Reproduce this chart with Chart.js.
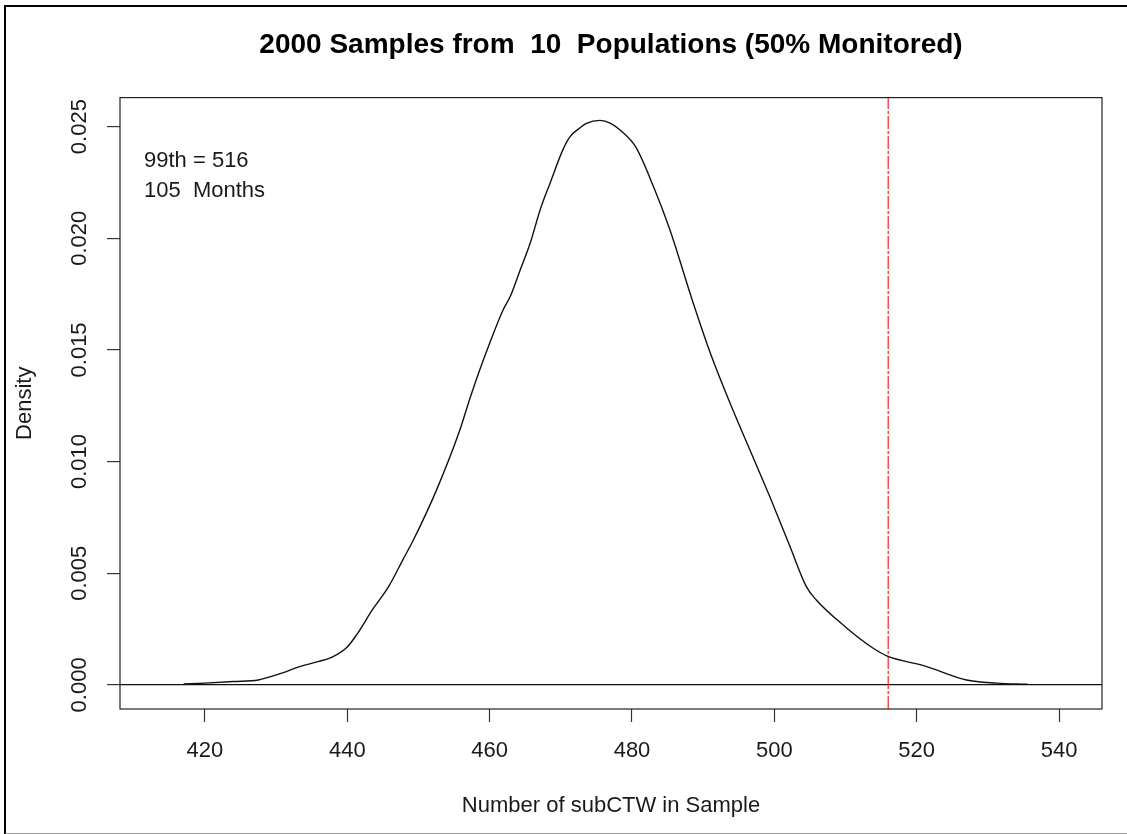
<!DOCTYPE html>
<html>
<head>
<meta charset="utf-8">
<script src="https://cdn.jsdelivr.net/npm/chart.js@4/dist/chart.umd.min.js"></script>
<style>
  html, body { margin: 0; padding: 0; background: #fff; }
  #frame {
    position: absolute; left: 4px; top: 5px; width: 1130px; height: 826px;
    border-left: 2px solid #000; border-top: 2px solid #000; border-bottom: 2px solid #999;
  }
  #densityChart { position: absolute; left: 0; top: 0; }
</style>
</head>
<body>
<div id="frame"></div>
<canvas id="densityChart" width="1127" height="834"></canvas>
<script>
// density curve (x = count, y = density)
const sampleX = [417.0, 420.0, 424.0, 427.5, 429.0, 431.0, 433.3, 436.0, 438.0, 440.0,
  441.3, 443.6, 445.8, 447.8, 449.3, 452.5, 455.8, 457.2, 458.6, 460.0,
  461.9, 462.9, 464.3, 465.7, 467.1, 468.5, 470.3, 471.3, 472.5, 473.6,
  475.5, 477.0, 478.5, 480.5, 483.0, 485.3, 488.6, 491.0, 493.8, 496.6,
  499.4, 502.2, 504.5, 505.9, 510.2, 513.9, 515.8, 521.4, 527.0, 531.2,
  535.6];
const densityY = [0.00004, 0.00008, 0.00015, 0.00022, 0.00035, 0.00055, 0.00082, 0.00105, 0.00127, 0.0017,
  0.00224, 0.0034, 0.0044, 0.0056, 0.0065, 0.0087, 0.0114, 0.0128, 0.0141, 0.0153,
  0.0168, 0.0174, 0.01859, 0.01979, 0.02128, 0.02248, 0.02397, 0.02455, 0.0249, 0.02515,
  0.02528, 0.02515, 0.0248, 0.0241, 0.02233, 0.0204, 0.0171, 0.01486, 0.0126, 0.0105,
  0.0084, 0.0062, 0.0044, 0.0038, 0.00254, 0.00164, 0.0013, 0.00082, 0.00022, 0.00008,
  0.00003];

const pct99 = 516;
const months = 105;
const xTicks = [420, 440, 460, 480, 500, 520, 540];
const yTicks = [0, 0.005, 0.010, 0.015, 0.020, 0.025];
const xRange = [408.06, 546.04];
const yRange = [-0.00108, 0.0263];

const FONT = "'Liberation Sans', Arial, sans-serif";
const TXT = '#1a1a1a';

// plot box + annotation text
const boxPlugin = {
  id: 'box',
  afterDraw(chart) {
    const { ctx, chartArea: a } = chart;
    ctx.save();
    ctx.strokeStyle = '#222';
    ctx.lineWidth = 1.2;
    ctx.strokeRect(a.left, a.top, a.right - a.left, a.bottom - a.top);
    ctx.fillStyle = TXT;
    ctx.font = '22px ' + FONT;
    ctx.textBaseline = 'middle';
    ctx.textAlign = 'left';
    ctx.fillText('99th = ' + pct99, a.left + 24, a.top + 63);
    ctx.fillText(months + '  Months', a.left + 24, a.top + 93);
    ctx.restore();
  },
};

const ctx = document.getElementById('densityChart');
new Chart(ctx, {
  type: 'line',
  data: {
    datasets: [
      {
        label: 'density',
        data: sampleX.map((x, i) => ({ x, y: densityY[i] })),
        borderColor: '#111',
        borderWidth: 1.4,
        pointRadius: 0,
        cubicInterpolationMode: 'monotone',
        fill: false,
      },
      {
        label: '99th',
        data: [{ x: pct99, y: yRange[0] }, { x: pct99, y: yRange[1] }],
        borderColor: 'rgb(255, 45, 45)',
        borderWidth: 1.3,
        borderDash: [13, 2, 3, 2],
        pointRadius: 0,
      },
    ],
  },
  options: {
    responsive: false,
    animation: false,
    devicePixelRatio: 1,
    layout: { padding: { left: 0, right: 25, top: 0, bottom: 0 } },
    plugins: {
      legend: { display: false },
      tooltip: { enabled: false },
      title: {
        display: true,
        fullSize: false,
        text: '2000 Samples from  10  Populations (50% Monitored)',
        color: '#000',
        font: { family: FONT, size: 28, weight: 'bold' },
        padding: { top: 28, bottom: 36 },
      },
    },
    scales: {
      x: {
        type: 'linear',
        min: xRange[0],
        max: xRange[1],
        afterBuildTicks: (s) => { s.ticks = xTicks.map((v) => ({ value: v })); },
        afterFit: (s) => { s.height = 125; },
        grid: { drawOnChartArea: false, tickLength: 13, tickColor: '#333', tickWidth: 1.2 },
        border: { display: false },
        ticks: { color: TXT, font: { family: FONT, size: 22 }, padding: 16, maxRotation: 0 },
        title: {
          display: true,
          text: 'Number of subCTW in Sample',
          color: TXT,
          font: { family: FONT, size: 22 },
          padding: { bottom: 15 },
        },
      },
      y: {
        type: 'linear',
        min: yRange[0],
        max: yRange[1],
        afterBuildTicks: (s) => { s.ticks = yTicks.map((v) => ({ value: v })); },
        afterFit: (s) => { s.width = 120; },
        grid: {
          tickLength: 13,
          tickColor: '#333',
          tickWidth: 1.2,
          lineWidth: 1.2,
          color: (c) => (c.tick && c.tick.value === 0 ? '#111' : 'rgba(0,0,0,0)'),
        },
        border: { display: false },
        ticks: {
          color: TXT,
          font: { family: FONT, size: 22 },
          minRotation: 90,
          maxRotation: 90,
          crossAlign: 'center',
          padding: 0,
          callback: (v) => Number(v).toFixed(3),
        },
        title: {
          display: true,
          text: 'Density',
          color: TXT,
          font: { family: FONT, size: 22 },
          padding: { top: 12 },
        },
      },
    },
  },
  plugins: [boxPlugin],
});
</script>
</body>
</html>
